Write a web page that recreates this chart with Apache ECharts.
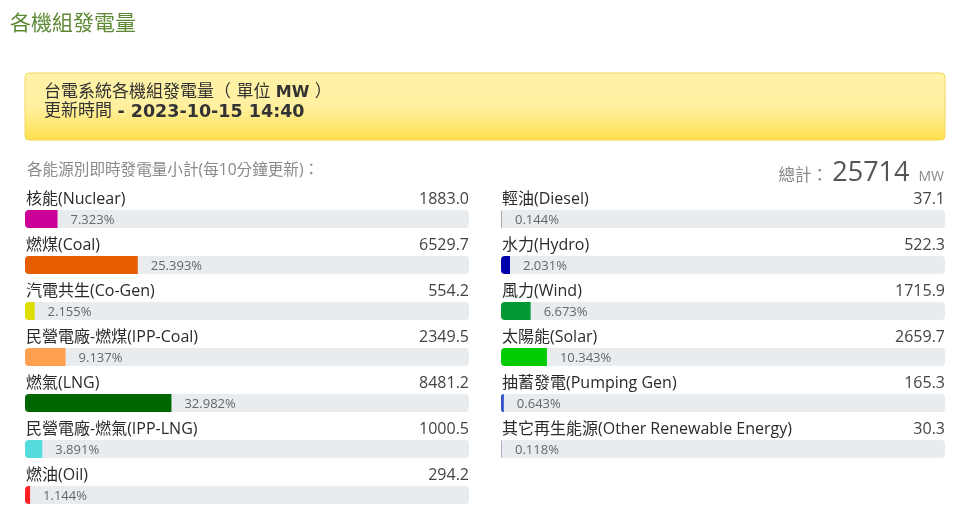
<!DOCTYPE html>
<html><head><meta charset="utf-8">
<script src="https://cdn.jsdelivr.net/npm/echarts@6/dist/echarts.min.js"></script>
<style>html,body{margin:0;padding:0;background:#fff;}#c{width:960px;height:518px;}</style>
</head><body><div id="c"></div>
<script>
const leftNames = ['核能(Nuclear)','燃煤(Coal)','汽電共生(Co-Gen)','民營電廠-燃煤(IPP-Coal)','燃氣(LNG)','民營電廠-燃氣(IPP-LNG)','燃油(Oil)'];
const leftValues = [1883.0, 6529.7, 554.2, 2349.5, 8481.2, 1000.5, 294.2];
const leftPct = [7.323, 25.393, 2.155, 9.137, 32.982, 3.891, 1.144];
const leftColors = ['#cc0099','#e65c00','#dddd00','#ffa050','#006600','#55dddd','#ff2222'];
const rightNames = ['輕油(Diesel)','水力(Hydro)','風力(Wind)','太陽能(Solar)','抽蓄發電(Pumping Gen)','其它再生能源(Other Renewable Energy)'];
const rightValues = [37.1, 522.3, 1715.9, 2659.7, 165.3, 30.3];
const rightPct = [0.144, 2.031, 6.673, 10.343, 0.643, 0.118];
const rightColors = ['#aaaaaa','#0000aa','#009933','#00cc00','#3355cc','#aaaacc'];
const totalMW = '25714';
const updateTime = '2023-10-15 14:40';

const FONT = "'Open Sans','Noto Sans CJK TC',sans-serif";
const VFONT = "'DejaVu Sans','Noto Sans CJK TC',sans-serif";

function colSeries(idx, names, values, pct, colors) {
  return [
    {
      type: 'bar', xAxisIndex: idx, yAxisIndex: idx, silent: true,
      barWidth: 18, barGap: '-100%',
      data: names.map(() => 100),
      itemStyle: { color: 'rgba(0,0,0,0)' },
      label: { show: true, position: 'insideLeft', distance: 1, offset: [0, -20],
        formatter: p => p.name, color: '#2a2a2a', fontSize: 16, fontFamily: FONT }
    },
    {
      type: 'bar', xAxisIndex: idx, yAxisIndex: idx, silent: true,
      barWidth: 18, barGap: '-100%',
      data: values.map(() => 100),
      itemStyle: { color: 'rgba(0,0,0,0)' },
      label: { show: true, position: 'insideRight', distance: 0, offset: [0, -20],
        formatter: p => values[p.dataIndex].toFixed(1), color: '#444', fontSize: 16, fontFamily: FONT }
    },
    {
      type: 'bar', xAxisIndex: idx, yAxisIndex: idx, silent: true,
      barWidth: 18, barGap: '-100%', barMinHeight: 1,
      showBackground: true,
      backgroundStyle: { color: '#e9ecef', borderRadius: 4 },
      data: pct.map((v, i) => ({ value: v, itemStyle: { color: colors[i] } })),
      itemStyle: { borderRadius: [4, 0, 0, 4] },
      label: { show: true, position: 'right', distance: 13, offset: [0, 1],
        formatter: p => pct[p.dataIndex].toFixed(3) + '%', color: '#666', fontSize: 13, fontFamily: FONT }
    }
  ];
}

const chart = echarts.init(document.getElementById('c'));
chart.setOption({
  animation: false,
  grid: [
    { left: 25, top: 196, width: 444, height: 322 },
    { left: 501, top: 196, width: 444, height: 276 }
  ],
  xAxis: [
    { gridIndex: 0, type: 'value', min: 0, max: 100, show: false },
    { gridIndex: 1, type: 'value', min: 0, max: 100, show: false }
  ],
  yAxis: [
    { gridIndex: 0, type: 'category', data: leftNames, inverse: true, show: false },
    { gridIndex: 1, type: 'category', data: rightNames, inverse: true, show: false }
  ],
  graphic: [
    { type: 'text', x: 10, y: 22, style: { text: '各機組發電量', verticalAlign: 'middle', fill: '#5e8a35', font: "21px 'Noto Sans CJK TC', sans-serif" } },
    { type: 'rect', shape: { x: 25, y: 73, width: 920, height: 67, r: 4 },
      style: { fill: new echarts.graphic.LinearGradient(0, 0, 0, 1, [
        { offset: 0, color: '#fff3a8' }, { offset: 0.5, color: '#fff0a0' }, { offset: 1, color: '#ffe04c' }]),
        stroke: '#f3d65e', lineWidth: 1 } },
    { type: 'text', x: 44, y: 93, style: {
      text: '{a|台電系統各機組發電量（ 單位 }{b|MW}{a| ）}', verticalAlign: 'middle',
      rich: { a: { fontSize: 17, fill: '#333', fontFamily: VFONT }, b: { fontSize: 16, fontWeight: 'bold', fill: '#333', fontFamily: VFONT } } } },
    { type: 'text', x: 44, y: 112, style: {
      text: '{a|更新時間 }{b|- ' + updateTime + '}', verticalAlign: 'middle',
      rich: { a: { fontSize: 17, fill: '#333', fontFamily: VFONT }, b: { fontSize: 17.5, fontWeight: 'bold', fill: '#333', fontFamily: VFONT } } } },
    { type: 'text', x: 27, y: 171, style: { text: '各能源別即時發電量小計(每10分鐘更新)：', verticalAlign: 'middle',
      fill: '#8a8a8a', font: "15.6px 'Open Sans','Noto Sans CJK TC', sans-serif" } },
    { type: 'text', x: 944, y: 173, style: {
      text: '{a|總計： }{b|' + totalMW + '}{c|MW}', align: 'right', verticalAlign: 'middle',
      rich: { a: { fontSize: 16.5, fill: '#888', fontFamily: FONT, padding: [6, 0, 0, 0] },
              b: { fontSize: 27, fill: '#555', fontFamily: FONT },
              c: { fontSize: 14, fill: '#888', fontFamily: FONT, padding: [8, 0, 0, 9] } } } }
  ],
  series: [
    ...colSeries(0, leftNames, leftValues, leftPct, leftColors),
    ...colSeries(1, rightNames, rightValues, rightPct, rightColors)
  ]
});
</script></body></html>
